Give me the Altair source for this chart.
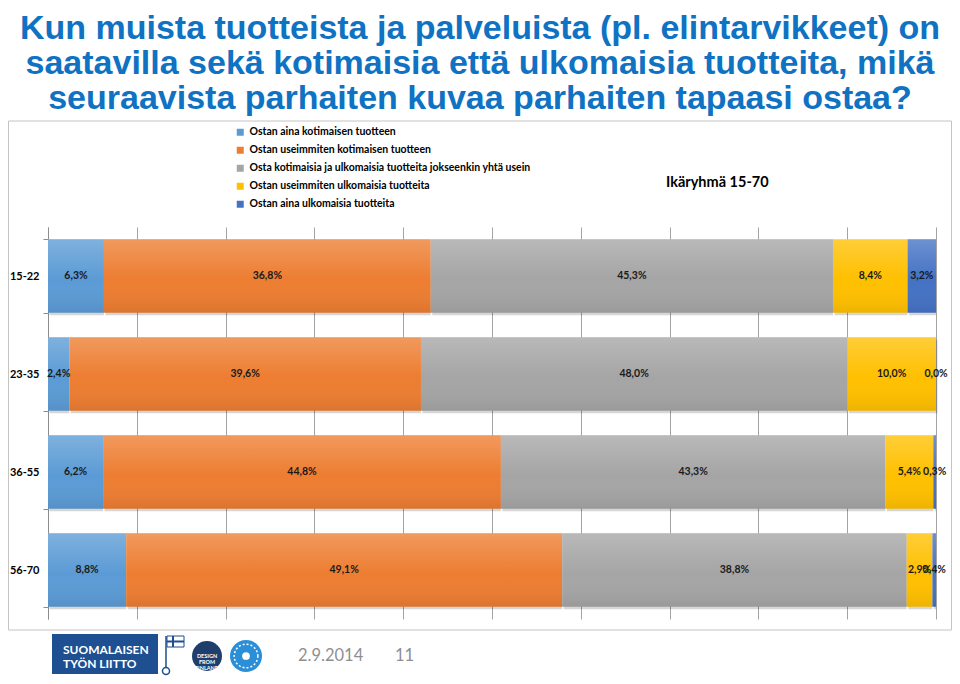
import altair as alt
import pandas as pd

# ---------------- data ----------------
age_groups = ["15-22", "23-35", "36-55", "56-70"]
answers = [
    "Ostan aina kotimaisen tuotteen",
    "Ostan useimmiten kotimaisen tuotteen",
    "Osta kotimaisia ja ulkomaisia tuotteita jokseenkin yhtä usein",
    "Ostan useimmiten ulkomaisia tuotteita",
    "Ostan aina ulkomaisia tuotteita",
]
share_15_22 = [6.3, 36.8, 45.3, 8.4, 3.2]
share_23_35 = [2.4, 39.6, 48.0, 10.0, 0.0]
share_36_55 = [6.2, 44.8, 43.3, 5.4, 0.3]
share_56_70 = [8.8, 49.1, 38.8, 2.9, 0.4]
answer_colors = ["#5B9BD5", "#ED7D31", "#A5A5A5", "#FFC000", "#4472C4"]

title_lines = [
    "Kun muista tuotteista ja palveluista (pl. elintarvikkeet) on",
    "saatavilla sekä kotimaisia että ulkomaisia tuotteita, mikä",
    "seuraavista parhaiten kuvaa parhaiten tapaasi ostaa?",
]
group_note = "Ikäryhmä 15-70"
logo_lines = ["SUOMALAISEN", "TYÖN LIITTO"]
footer_date = "2.9.2014"
footer_page = "11"

# ---------------- table ----------------
rows = []
for grp, shares in zip(age_groups, [share_15_22, share_23_35, share_36_55, share_56_70]):
    cum = 0.0
    for ans, v in zip(answers, shares):
        rows.append({
            "group": grp,
            "answer": ans,
            "value": v,
            "start": cum,
            "end": cum + v,
            "mid": cum + v / 2,
            "label": f"{v:.1f}".replace(".", ",") + "%",
        })
        cum += v
df = pd.DataFrame(rows)

FONT = "Lato"
GRID = "#8c8c8c"

x_enc = alt.X(
    "start:Q",
    scale=alt.Scale(domain=[0, 100], nice=False, zero=True),
    axis=alt.Axis(
        values=list(range(0, 101, 10)), grid=True, gridColor=GRID, gridWidth=0.8,
        labels=False, ticks=False, domain=False, title=None,
    ),
)
y_enc = alt.Y(
    "group:N",
    sort=age_groups,
    scale=alt.Scale(paddingInner=0.25, paddingOuter=0.125),
    axis=alt.Axis(
        title=None, tickBand="extent", tickSize=5, tickColor=GRID, domainColor=GRID,
        labelFont=FONT, labelFontWeight="bold", labelFontSize=11, labelColor="#000",
        labelPadding=4,
    ),
)

base = alt.Chart(df)

shadow = base.mark_bar(color="#000000", opacity=0.16, xOffset=1.5, yOffset=2.5).encode(
    x=x_enc, x2="end:Q", y=y_enc
)

bars = base.mark_bar().encode(
    x=x_enc,
    x2="end:Q",
    y=y_enc,
    color=alt.Color(
        "answer:N",
        sort=answers,
        scale=alt.Scale(domain=answers, range=answer_colors),
        legend=alt.Legend(
            orient="none", legendX=187, legendY=-100, title=None,
            symbolType="square", symbolSize=49, symbolStrokeWidth=0,
            labelFont=FONT, labelFontWeight="bold", labelFontSize=10.5,
            labelColor="#000", rowPadding=7, padding=0, labelOffset=4, labelLimit=500,
        ),
    ),
)

sheen = base.mark_bar(
    fill=alt.Gradient(
        gradient="linear", x1=0, x2=0, y1=0, y2=1,
        stops=[
            alt.GradientStop(color="rgba(255,255,255,0.22)", offset=0),
            alt.GradientStop(color="rgba(255,255,255,0.0)", offset=0.55),
            alt.GradientStop(color="rgba(0,0,0,0.07)", offset=1),
        ],
    )
).encode(x=x_enc, x2="end:Q", y=y_enc)

labels = base.mark_text(
    font=FONT, fontWeight="bold", fontSize=10.5, color="#1a1a1a", baseline="middle", align="center"
).encode(x="mid:Q", y=alt.Y("group:N", sort=age_groups), text="label:N")

one = pd.DataFrame({"k": [0]})

frame = alt.Chart(one).mark_rect(fill=None, stroke="#c4c4c4", strokeWidth=1).encode(
    x=alt.value(-39.5), x2=alt.value(903.5), y=alt.value(-106), y2=alt.value(403)
)

title = alt.Chart(one).mark_text(
    text=title_lines, font="Liberation Sans", fontWeight="bold", fontSize=34,
    lineHeight=35, color="#0F72C2", align="center", baseline="alphabetic",
).encode(x=alt.value(432), y=alt.value(-188))

note = alt.Chart(one).mark_text(
    text=group_note, font=FONT, fontWeight="bold", fontSize=14.5, color="#000",
    align="left", baseline="middle",
).encode(x=alt.value(618), y=alt.value(-44))

# footer
logo_box = alt.Chart(one).mark_rect(fill="#1D4F91").encode(
    x=alt.value(4), x2=alt.value(110), y=alt.value(407), y2=alt.value(447)
)
logo_text = alt.Chart(one).mark_text(
    text=logo_lines, font=FONT, fontWeight="bold", fontSize=12, lineHeight=14,
    color="#ffffff", align="left", baseline="middle",
).encode(x=alt.value(15), y=alt.value(423))
key_pole = alt.Chart(one).mark_rule(color="#1D4F91", strokeWidth=1.5).encode(
    x=alt.value(118), y=alt.value(409), y2=alt.value(441)
)
key_flag = alt.Chart(one).mark_rect(fill="#ffffff", stroke="#1D4F91", strokeWidth=1).encode(
    x=alt.value(119), x2=alt.value(136), y=alt.value(409), y2=alt.value(420)
)
key_cross_v = alt.Chart(one).mark_rule(color="#1D4F91", strokeWidth=2).encode(
    x=alt.value(125), y=alt.value(409), y2=alt.value(420)
)
key_cross_h = alt.Chart(one).mark_rule(color="#1D4F91", strokeWidth=2).encode(
    x=alt.value(119), x2=alt.value(136), y=alt.value(414.5)
)
key_ring = alt.Chart(one).mark_point(shape="circle", size=50, stroke="#1D4F91", strokeWidth=1.5, filled=False, opacity=1).encode(
    x=alt.value(118), y=alt.value(444)
)
design_logo = alt.Chart(one).mark_point(shape="circle", size=900, filled=True, color="#1E3F6E", opacity=1).encode(
    x=alt.value(159), y=alt.value(429)
)
design_text = alt.Chart(one).mark_text(
    text=["DESIGN", "FROM", "FINLAND"], font=FONT, fontWeight="bold", fontSize=5.5,
    lineHeight=6, color="#ffffff", align="center", baseline="middle",
).encode(x=alt.value(159), y=alt.value(429))
sun_logo = alt.Chart(one).mark_point(shape="circle", size=1024, filled=True, color="#2B8FD8", opacity=1).encode(
    x=alt.value(198), y=alt.value(429)
)
sun_ring = alt.Chart(one).mark_point(shape="circle", size=560, filled=False, stroke="#ffffff", strokeWidth=1.5, strokeDash=[2, 2], opacity=1).encode(
    x=alt.value(198), y=alt.value(429)
)
sun_core = alt.Chart(one).mark_point(shape="circle", size=60, filled=True, color="#ffffff", opacity=1).encode(
    x=alt.value(198), y=alt.value(429)
)
date_text = alt.Chart(one).mark_text(
    text=footer_date, font=FONT, fontSize=16.5, color="#8f8f8f", align="left", baseline="middle"
).encode(x=alt.value(250), y=alt.value(429))
page_text = alt.Chart(one).mark_text(
    text=footer_page, font=FONT, fontSize=16.5, color="#8f8f8f", align="left", baseline="middle"
).encode(x=alt.value(347), y=alt.value(429))

chart = alt.layer(
    frame, shadow, bars, sheen, labels, title, note,
    logo_box, logo_text, key_pole, key_flag, key_cross_v, key_cross_h, key_ring,
    design_logo, design_text, sun_logo, sun_ring, sun_core, date_text, page_text,
).properties(
    width=888, height=392,
    padding={"left": 40, "top": 219, "right": 16, "bottom": 57},
    autosize=alt.AutoSizeParams(type="none"),
    background="#ffffff",
).configure_view(stroke=None)

chart.save("out.html", embed_options={"renderer": "svg", "actions": False})
